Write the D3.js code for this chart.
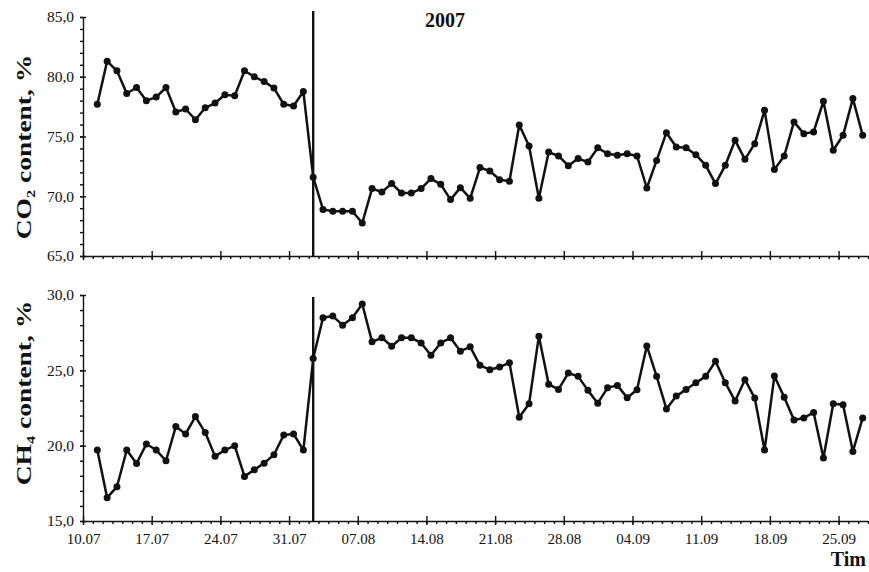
<!DOCTYPE html>
<html>
<head>
<meta charset="utf-8">
<script src="https://cdn.jsdelivr.net/npm/d3@7"></script>
<style>
body { margin: 0; background: #fff; }
svg { display: block; font-family: "Liberation Serif", "Times New Roman", serif; }
</style>
</head>
<body>
<div id="chart"></div>
<script>
// daily samples, first one on 11.07.2007
var firstDay = "2007-07-11";
var co2 = [77.7,81.3,80.5,78.6,79.1,78.0,78.3,79.1,77.05,77.3,
  76.4,77.4,77.8,78.5,78.4,80.5,80.0,79.6,79.05,77.7,
  77.55,78.76,71.6,68.9,68.74,68.74,68.74,67.76,70.64,70.36,
  71.06,70.27,70.27,70.64,71.48,71.0,69.72,70.72,69.83,72.4,
  72.11,71.39,71.25,75.96,74.2,69.83,73.7,73.37,72.56,73.15,
  72.87,74.05,73.56,73.43,73.56,73.37,70.69,73.0,75.32,74.12,
  74.05,73.48,72.59,71.06,72.59,74.68,73.09,74.4,77.19,72.23,
  73.37,76.22,75.24,75.38,77.95,73.85,75.1,78.17,75.1];
var ch4 = [19.71,16.55,17.27,19.71,18.82,20.11,19.71,19.0,21.27,20.78,
  21.93,20.87,19.29,19.71,20.0,17.96,18.4,18.84,19.4,20.71,
  20.78,19.71,25.78,28.49,28.6,28.0,28.49,29.4,26.89,27.16,
  26.6,27.16,27.16,26.82,26.0,26.82,27.16,26.27,26.56,25.33,
  25.04,25.22,25.51,21.89,22.78,27.27,24.07,23.73,24.82,24.6,
  23.67,22.82,23.84,24.0,23.18,23.71,26.62,24.6,22.44,23.29,
  23.73,24.18,24.6,25.6,24.18,22.96,24.38,23.16,19.71,24.62,
  23.22,21.71,21.84,22.2,19.18,22.78,22.71,19.62,21.84];
var eventDay = "2007-08-02";
var co2Ticks = [65, 70, 75, 80, 85];
var ch4Ticks = [15, 20, 25, 30];
var axisStart = "2007-07-10", axisEnd = "2007-09-28";

var width = 869, height = 572;
var parse = d3.timeParse("%Y-%m-%d");
var start = parse(firstDay);
var dates = co2.map(function(d, i) { return d3.timeHour.offset(d3.timeDay.offset(start, i), 11); });

var svg = d3.select("#chart").append("svg")
  .attr("width", width)
  .attr("height", height);

var x = d3.scaleTime()
  .domain([parse(axisStart), parse(axisEnd)])
  .range([83, 868]);

var allDays = d3.timeDay.range(parse(axisStart), d3.timeDay.offset(parse(axisEnd), 1));
var weekDays = d3.timeDay.range(parse(axisStart), parse(axisEnd), 7);
var fmtDate = d3.timeFormat("%d.%m");
var fmtVal = function(v) { return d3.format(".1f")(v).replace(".", ","); };

var panels = [
  { values: co2, domain: [65, 85], range: [256, 17], ticks: co2Ticks, main: "CO", sub: "2", lineTop: 11, labels: false, titleY: 147 },
  { values: ch4, domain: [15, 30], range: [521, 295], ticks: ch4Ticks, main: "CH", sub: "4", lineTop: 297, labels: true, titleY: 393 }
];

panels.forEach(function(p) {
  var y = d3.scaleLinear().domain(p.domain).range(p.range);
  var g = svg.append("g");
  var base = p.range[0];

  // minor y ticks (every unit)
  g.append("g")
    .attr("transform", "translate(" + x.range()[0] + ",0)")
    .call(d3.axisLeft(y).tickValues(d3.range(p.domain[0], p.domain[1] + 1, 1)).tickSize(3).tickFormat(""))
    .call(function(a) { a.select(".domain").remove(); });

  var ya = g.append("g")
    .attr("transform", "translate(" + x.range()[0] + ",0)")
    .call(d3.axisLeft(y).tickValues(p.ticks).tickSizeInner(3).tickSizeOuter(0).tickPadding(6).tickFormat(fmtVal));
  ya.selectAll(".tick line").attr("x2", 3).attr("x1", -3);
  ya.selectAll("text").attr("font-size", 15.5).attr("font-family", "Liberation Serif").attr("fill", "#111");

  // x axis: daily minor ticks, weekly major ticks
  g.append("g")
    .attr("transform", "translate(0," + base + ")")
    .call(d3.axisBottom(x).tickValues(allDays).tickSize(3).tickFormat(""))
    .call(function(a) { a.select(".domain").remove(); });

  var xa = g.append("g")
    .attr("transform", "translate(0," + base + ")")
    .call(d3.axisBottom(x).tickValues(weekDays).tickSizeInner(4).tickSizeOuter(0).tickPadding(8)
      .tickFormat(p.labels ? fmtDate : ""));
  xa.selectAll(".tick line").attr("y1", -5);
  xa.selectAll("text").attr("font-size", 15).attr("font-family", "Liberation Serif").attr("fill", "#111");

  g.selectAll(".domain, .tick line").attr("stroke", "#111").attr("stroke-width", 1.4);

  // vertical marker
  var ex = x(d3.timeHour.offset(parse(eventDay), 11));
  g.append("line")
    .attr("x1", ex).attr("x2", ex)
    .attr("y1", p.lineTop).attr("y2", base)
    .attr("stroke", "#111").attr("stroke-width", 2.4);

  var line = d3.line()
    .x(function(d, i) { return x(dates[i]); })
    .y(function(d) { return y(d); });

  g.append("path")
    .datum(p.values)
    .attr("d", line)
    .attr("fill", "none")
    .attr("stroke", "#111")
    .attr("stroke-width", 2.5)
    .attr("stroke-linejoin", "round");

  g.selectAll("circle")
    .data(p.values)
    .enter().append("circle")
    .attr("cx", function(d, i) { return x(dates[i]); })
    .attr("cy", function(d) { return y(d); })
    .attr("r", 3.5)
    .attr("fill", "#111");

  // rotated y title with subscript (glyphs in the source are tall and narrow)
  var t = svg.append("text")
    .attr("transform", "translate(31," + p.titleY + ") rotate(-90) scale(1.25,1)")
    .attr("text-anchor", "middle")
    .attr("font-size", 22)
    .attr("font-weight", "bold")
    .attr("fill", "#111");
  t.append("tspan").text(p.main);
  t.append("tspan").attr("font-size", 13).attr("dy", 4).text(p.sub);
  t.append("tspan").attr("dy", -4).text(" content, %");
});

svg.append("text")
  .attr("x", 445).attr("y", 27)
  .attr("text-anchor", "middle")
  .attr("font-size", 20)
  .attr("font-weight", "bold")
  .attr("fill", "#111")
  .text("2007");

// the source figure is cropped at the right edge, only "Tim" is visible
svg.append("text")
  .attr("x", 866).attr("y", 566)
  .attr("text-anchor", "end")
  .attr("font-size", 20)
  .attr("font-weight", "bold")
  .attr("fill", "#111")
  .text("Tim");
</script>
</body>
</html>
